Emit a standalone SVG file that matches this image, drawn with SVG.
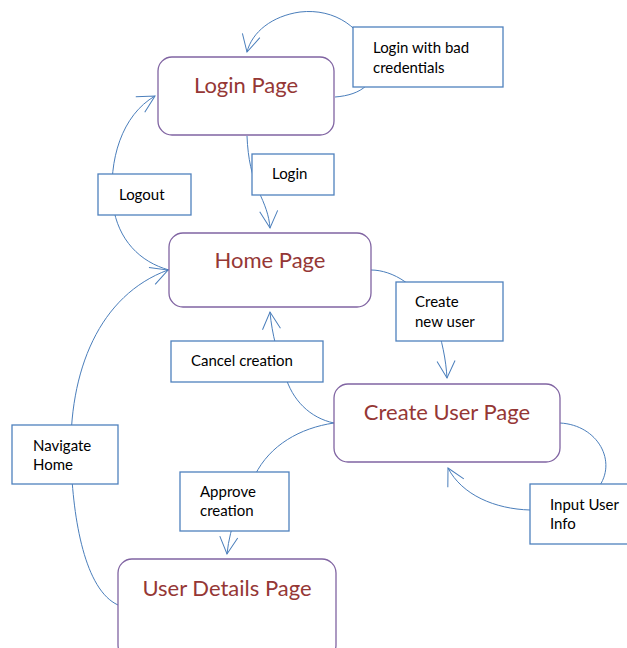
<svg xmlns="http://www.w3.org/2000/svg" width="627" height="648" viewBox="0 0 627 648">
<defs>
<style>
.node rect{fill:#fff;stroke:#8064a2;stroke-width:1.3}
.node text{font-family:Lato,"Open Sans",sans-serif;font-size:22px;fill:#953735;text-anchor:middle}
.lbl rect{fill:#fff;stroke:#4f81bd;stroke-width:1.3}
.lbl text{font-family:Lato,"Open Sans",sans-serif;font-size:15px;fill:#000}
.edge{fill:none;stroke:#4a7ebb;stroke-width:1}
</style>
<marker id="arr" markerUnits="userSpaceOnUse" viewBox="-20 -12 22 24" refX="0" refY="0" markerWidth="22" markerHeight="24" orient="auto">
<path d="M-17,-9 L0,0 L-17,9" fill="none" stroke="#4a7ebb" stroke-width="1"/>
</marker>
</defs>
<rect width="627" height="648" fill="#fff"/>
<g id="connectors">
<path class="edge" d="M335,97 C362,95 378,82 372,60 C364,28 335,8 300,12 C272,16 252,32 247,52" marker-end="url(#arr)"/>
<path class="edge" d="M247,136 C248,160 252,175 258,190 C265,205 269,215 270,228" marker-end="url(#arr)"/>
<path class="edge" d="M169,270 C140,262 118,240 113,205 C108,160 122,115 155,96" marker-end="url(#arr)"/>
<path class="edge" d="M118,605 C85,590 73,520 71,460 C68,370 100,295 168,270" marker-end="url(#arr)"/>
<path class="edge" d="M371,270 C392,270 420,285 435,320 C442,340 446,360 447,378" marker-end="url(#arr)"/>
<path class="edge" d="M334,423 C310,418 292,400 285,375 C278,355 272,335 270,312" marker-end="url(#arr)"/>
<path class="edge" d="M334,423 C300,428 270,445 255,475 C240,505 230,525 227,554" marker-end="url(#arr)"/>
<path class="edge" d="M560,423 C598,425 618,462 598,488 C585,505 560,511 530,510 C495,509 462,495 448,468" marker-end="url(#arr)"/>
</g>
<g id="login-page" class="node"><rect x="158" y="57" width="176" height="78" rx="14"/><text x="246" y="93">Login Page</text></g>
<g id="home-page" class="node"><rect x="169" y="233" width="202" height="74" rx="14"/><text x="270" y="268">Home Page</text></g>
<g id="create-user-page" class="node"><rect x="334" y="384" width="226" height="78" rx="14"/><text x="447" y="420">Create User Page</text></g>
<g id="user-details-page" class="node"><rect x="118" y="559" width="218" height="100" rx="14"/><text x="227" y="596">User Details Page</text></g>
<g id="lbl-bad" class="lbl"><rect x="353" y="27" width="150" height="60"/><text x="373" y="53">Login with bad</text><text x="373" y="73">credentials</text></g>
<g id="lbl-login" class="lbl"><rect x="252" y="154" width="82" height="41"/><text x="272" y="179">Login</text></g>
<g id="lbl-logout" class="lbl"><rect x="98" y="174" width="93" height="41"/><text x="119" y="200">Logout</text></g>
<g id="lbl-create" class="lbl"><rect x="396" y="282" width="107" height="59"/><text x="415" y="307">Create</text><text x="415" y="327">new user</text></g>
<g id="lbl-cancel" class="lbl"><rect x="171" y="341" width="152" height="41"/><text x="191" y="366">Cancel creation</text></g>
<g id="lbl-navigate" class="lbl"><rect x="12" y="425" width="106" height="59"/><text x="33" y="451">Navigate</text><text x="33" y="470">Home</text></g>
<g id="lbl-approve" class="lbl"><rect x="180" y="472" width="109" height="59"/><text x="200" y="497">Approve</text><text x="200" y="516">creation</text></g>
<g id="lbl-input" class="lbl"><rect x="530" y="484" width="110" height="60"/><text x="550" y="510">Input User</text><text x="550" y="529">Info</text></g>
</svg>
